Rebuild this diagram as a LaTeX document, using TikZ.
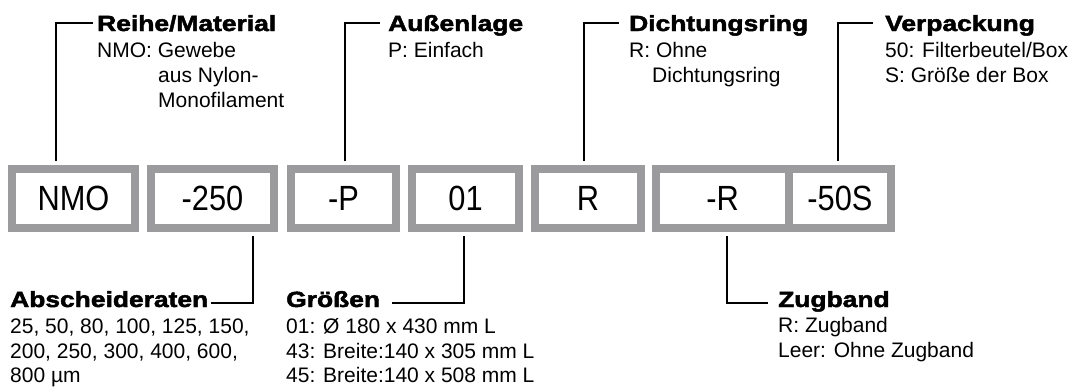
\documentclass[tikz,border=0pt]{standalone}
\usepackage{fontspec}
\setmainfont{Liberation Sans}
\newfontfamily\boxfont{Liberation Sans}[FakeStretch=0.88]
\newfontfamily\headfont{Liberation Sans}[BoldFeatures={FakeStretch=1.2,FakeBold=2.2}]
\definecolor{boxgray}{RGB}{155,155,158}
\tikzset{
  codebox/.style={draw=boxgray, line width=8pt, minimum height=59pt, inner sep=0pt,
    font=\boxfont\fontsize{35}{40}\selectfont, text=black},
  head/.style={anchor=base west, inner sep=0pt, font=\headfont\bfseries\fontsize{22}{26}\selectfont},
  desc/.style={anchor=base west, inner sep=0pt, font=\fontsize{21}{25}\selectfont},
  conn/.style={line width=2.7pt, black, line join=miter}
}
\begin{document}
\begin{tikzpicture}[x=1pt, y=-1pt]
\useasboundingbox (0,0) rectangle (1070,386);
% code boxes
\node[codebox, minimum width=123pt] (b1) at (73.5,198.5) {NMO};
\node[codebox, minimum width=123pt] (b2) at (212.5,198.5) {-250};
\node[codebox, minimum width=105pt] (b3) at (343.5,198.5) {-P};
\node[codebox, minimum width=107pt] (b4) at (465.5,198.5) {01};
\node[codebox, minimum width=106pt] (b5) at (588,198.5) {R};
\node[codebox, minimum width=133pt] (b6) at (722.5,198.5) {-R};
\node[codebox, minimum width=102pt] (b7) at (840,198.5) {-50S};

% top labels
\node[head] (t1) at (97,31) {Reihe/Material};
\node[desc] (t1a) at (97,57) {NMO: Gewebe};
\node[desc] (t1b) at (158,82) {aus Nylon-};
\node[desc] (t1c) at (158,107) {Monofilament};

\node[head] (t3) at (388,31) {Außenlage};
\node[desc] (t3a) at (388,57) {P: Einfach};

\node[head] (t5) at (629,31) {Dichtungsring};
\node[desc] (t5a) at (629,57) {R: Ohne};
\node[desc] (t5b) at (652,82) {Dichtungsring};

\node[head] (t7) at (885,31) {Verpackung};
\node[desc] (t7a) at (885,57) {50: Filterbeutel/Box};
\node[desc] (t7b) at (885,82) {S: Größe der Box};

% bottom labels
\node[head] (t2) at (10,307) {Abscheideraten};
\node[desc] (t2a) at (10,333) {25, 50, 80, 100, 125, 150,};
\node[desc] (t2b) at (10,358) {200, 250, 300, 400, 600,};
\node[desc] (t2c) at (10,382) {800 µm};

\node[head] (t4) at (286,307) {Größen};
\node[desc] (t4a) at (286,333) {01: Ø 180 x 430 mm L};
\node[desc] (t4b) at (286,358) {43: Breite:140 x 305 mm L};
\node[desc] (t4c) at (286,382) {45: Breite:140 x 508 mm L};

\node[head] (t6) at (778,307) {Zugband};
\node[desc] (t6a) at (778,332) {R: Zugband};
\node[desc] (t6b) at (778,357) {Leer: Ohne Zugband};

% connector corners and ends
\coordinate (e1) at (56,23);  \coordinate (h1) at (93,23);
\coordinate (e3) at (345,23); \coordinate (h3) at (380,23);
\coordinate (e5) at (584,23); \coordinate (h5) at (619,23);
\coordinate (e7) at (838,23); \coordinate (h7) at (873,23);
\coordinate (e2) at (253,303); \coordinate (h2) at (211,303);
\coordinate (e4) at (464,303); \coordinate (h4) at (392,303);
\coordinate (e6) at (727,303); \coordinate (h6) at (768,303);

\draw[conn] ([yshift=4pt]b1.north -| e1) -- (e1) -- (h1);
\draw[conn] ([yshift=4pt]b3.north -| e3) -- (e3) -- (h3);
\draw[conn] ([yshift=4pt]b5.north -| e5) -- (e5) -- (h5);
\draw[conn] ([yshift=4pt]b7.north -| e7) -- (e7) -- (h7);
\draw[conn] ([yshift=-4pt]b2.south -| e2) -- (e2) -- (h2);
\draw[conn] ([yshift=-4pt]b4.south -| e4) -- (e4) -- (h4);
\draw[conn] ([yshift=-4pt]b6.south -| e6) -- (e6) -- (h6);
\end{tikzpicture}
\end{document}
